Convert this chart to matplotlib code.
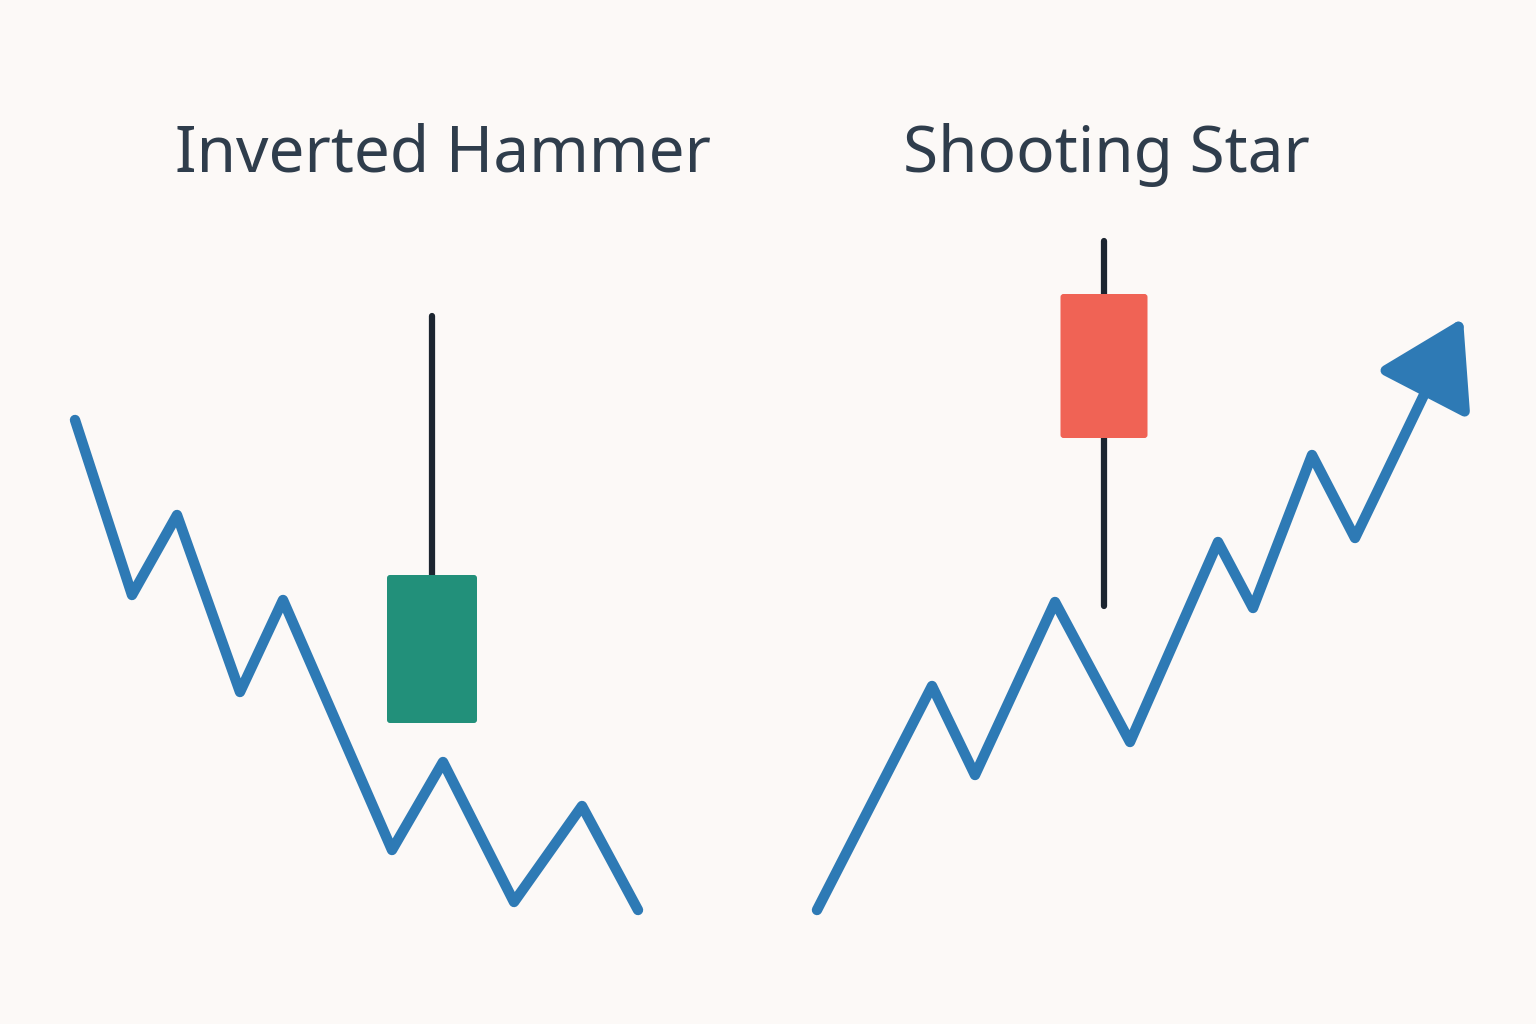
import matplotlib
matplotlib.use("Agg")
import matplotlib.pyplot as plt
from matplotlib.patches import FancyBboxPatch, FancyArrowPatch

# data (in image coordinate space)
down_x = [75, 132, 177, 240, 283, 392, 443, 514, 582, 638]
down_y = [420, 595, 515, 692, 600, 850, 762, 902, 806, 910]
up_x = [817, 932, 975, 1055, 1130, 1218, 1253, 1312, 1355, 1435]
up_y = [910, 686, 775, 602, 742, 542, 608, 455, 538, 372]
arrow_tip = (1463, 318)

titles = ["Inverted Hammer", "Shooting Star"]
title_x = [443, 1106]
# candles: center x, wick top, wick bottom, body top, body bottom
candle_x = [432, 1104]
wick_top = [316, 241]
wick_bot = [575, 606]
body_top = [575, 294]
body_bot = [723, 438]
body_w = [90, 87]
candle_colors = ["#22907a", "#f06355"]

bg = "#fcf9f7"
line_c = "#2e7ab5"
fig = plt.figure(figsize=(15.36, 10.24), dpi=100, facecolor=bg)
ax = fig.add_axes([0, 0, 1, 1])
ax.set_facecolor(bg)
ax.set_xlim(0, 1536)
ax.set_ylim(1024, 0)
ax.axis("off")

ax.plot(down_x, down_y, color=line_c, lw=7.5, solid_joinstyle="round", solid_capstyle="round")
ax.plot(up_x, up_y, color=line_c, lw=7.5, solid_joinstyle="round", solid_capstyle="round")
ax.add_patch(FancyArrowPatch((up_x[-1], up_y[-1]), arrow_tip, arrowstyle="-|>,head_length=2.6,head_width=1.6",
                             mutation_scale=20, color=line_c, lw=7.5, shrinkA=0, shrinkB=0))

for cx, wt, wb, bt, bb, w, c in zip(candle_x, wick_top, wick_bot, body_top, body_bot, body_w, candle_colors):
    ax.plot([cx, cx], [wt, wb], color="#1c2530", lw=4.5, solid_capstyle="round", zorder=2)
    ax.add_patch(FancyBboxPatch((cx - w / 2, bt), w, bb - bt, boxstyle="round,pad=0,rounding_size=3",
                                facecolor=c, edgecolor="none", zorder=3))

for t, x in zip(titles, title_x):
    ax.text(x, 155, t, ha="center", va="center", fontsize=46, color="#2f3d4c", family="Noto Sans")

fig.savefig("out.png", dpi=100, facecolor=bg)
